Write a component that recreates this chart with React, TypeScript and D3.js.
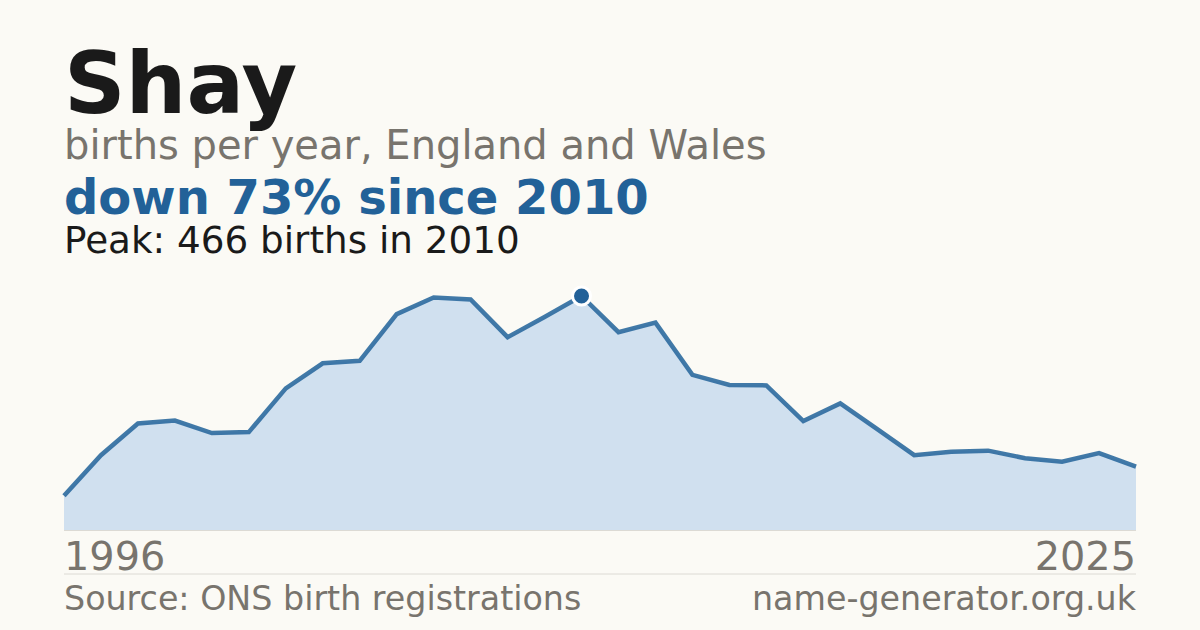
import React from "react";
import * as d3 from "d3";

const years: number[] = d3.range(1996, 2026);
const births: number[] = [
  68, 149, 212, 218, 193, 195, 282, 332, 337, 430,
  463, 459, 384, 424, 466, 394, 413, 309, 289, 288,
  217, 252, 201, 149, 156, 158, 143, 136, 153, 126,
];
const title = "Shay";
const subtitle = "births per year, England and Wales";
const headline = "down 73% since 2010";
const peakText = "Peak: 466 births in 2010";
const source = "Source: ONS birth registrations";
const site = "name-generator.org.uk";

const W = 1200;
const H = 630;
const FONT = "'DejaVu Sans', Verdana, sans-serif";

export default function App() {
  const x = d3.scaleLinear().domain([years[0], years[years.length - 1]]).range([64, 1136]);
  const maxV = d3.max(births) as number;
  const y = d3.scaleLinear().domain([0, maxV]).range([530, 296]);
  const pts: [number, number][] = years.map((yr, i) => [yr, births[i]]);
  const area = d3
    .area<[number, number]>()
    .x((d) => x(d[0]))
    .y0(y(0))
    .y1((d) => y(d[1]));
  const line = d3
    .line<[number, number]>()
    .x((d) => x(d[0]))
    .y((d) => y(d[1]));
  const peakIdx = births.indexOf(maxV);

  return (
    <svg
      width={W}
      height={H}
      viewBox={`0 0 ${W} ${H}`}
      style={{ position: "absolute", left: 0, top: 0, display: "block" }}
    >
      <rect width={W} height={H} fill="#fbfaf5" />
      <text x={64} y={113} fontFamily={FONT} fontWeight="bold" fontSize={85.5} fill="#1a1a1a">
        {title}
      </text>
      <text x={64} y={158.5} fontFamily={FONT} fontSize={40} fill="#78746d">
        {subtitle}
      </text>
      <text x={64} y={214} fontFamily={FONT} fontWeight="bold" fontSize={48} fill="#226198">
        {headline}
      </text>
      <text x={64} y={253} fontFamily={FONT} fontSize={37.3} fill="#1a1a1a">
        {peakText}
      </text>

      <path d={area(pts) ?? ""} fill="#d0e0ef" />
      <line x1={64} x2={1136} y1={530.5} y2={530.5} stroke="#dcdad4" strokeWidth={1} />
      <path
        d={line(pts) ?? ""}
        fill="none"
        stroke="#2c6a9e"
        strokeWidth={4.5}
        strokeLinejoin="miter"
        strokeOpacity={0.9}
      />
      <circle
        cx={x(years[peakIdx])}
        cy={y(maxV)}
        r={9}
        fill="#226198"
        stroke="#ffffff"
        strokeWidth={3}
      />

      <text x={64} y={570} fontFamily={FONT} fontSize={39.8} fill="#78746d">
        {years[0]}
      </text>
      <text x={1136} y={570} textAnchor="end" fontFamily={FONT} fontSize={39.8} fill="#78746d">
        {years[years.length - 1]}
      </text>
      <line x1={64} x2={1136} y1={574} y2={574} stroke="#dcdad4" strokeWidth={1} />
      <text x={64} y={610} fontFamily={FONT} fontSize={33.3} fill="#78746d">
        {source}
      </text>
      <text x={1136} y={610} textAnchor="end" fontFamily={FONT} fontSize={33.3} fill="#78746d">
        {site}
      </text>
    </svg>
  );
}
